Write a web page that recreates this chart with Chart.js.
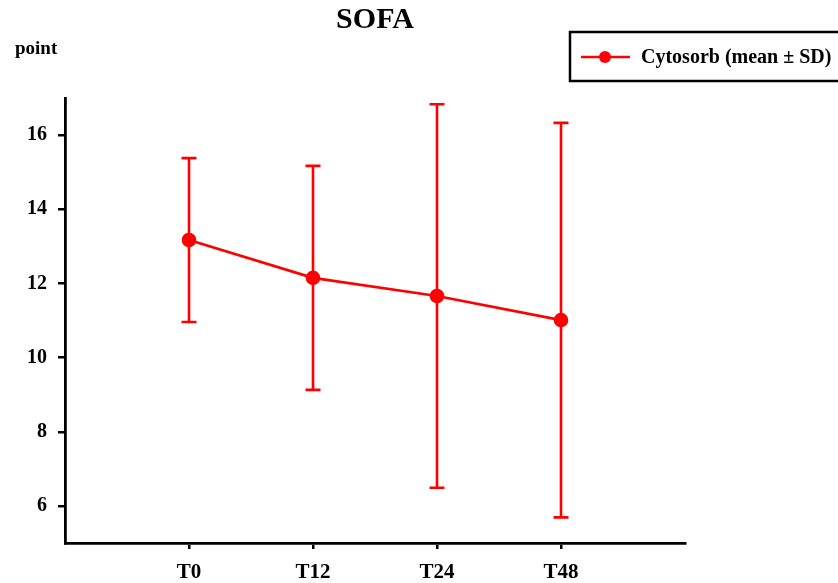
<!DOCTYPE html>
<html>
<head>
<meta charset="utf-8">
<script src="https://cdn.jsdelivr.net/npm/chart.js@4/dist/chart.umd.min.js"></script>
<style>
  html, body { margin: 0; padding: 0; background: #fff; }
  #wrap { width: 838px; height: 583px; position: relative; }
</style>
</head>
<body>
<div id="wrap"><canvas id="sofaChart"></canvas></div>
<script>
// Data
const timeLabels = ['T0', 'T12', 'T24', 'T48'];
const sofaMean = [13.17, 12.15, 11.66, 11.01];
const sofaSD = [2.21, 3.02, 5.17, 5.32];
const yTicks = [6, 8, 10, 12, 14, 16];

const RED = '#ff0000';
const FONT = '"Liberation Serif", "Times New Roman", serif';

// Draws vertical error bars (mean ± SD) with caps
const errorBars = {
    id: 'errorBars',
    beforeDatasetsDraw(chart) {
        const ctx = chart.ctx;
        const xs = chart.scales.x, ys = chart.scales.y;
        ctx.save();
        ctx.strokeStyle = RED;
        ctx.lineWidth = 2.6;
        sofaMean.forEach((m, i) => {
            const x = xs.getPixelForValue(i);
            const top = ys.getPixelForValue(m + sofaSD[i]);
            const bot = ys.getPixelForValue(m - sofaSD[i]);
            ctx.beginPath();
            ctx.moveTo(x, top); ctx.lineTo(x, bot);
            ctx.moveTo(x - 7.5, top); ctx.lineTo(x + 7.5, top);
            ctx.moveTo(x - 7.5, bot); ctx.lineTo(x + 7.5, bot);
            ctx.stroke();
        });
        ctx.restore();
    }
};

// Title, unit label and boxed legend
const decorations = {
    id: 'decorations',
    afterDraw(chart) {
        const ctx = chart.ctx;
        const area = chart.chartArea;
        ctx.save();
        ctx.fillStyle = '#000';
        ctx.textBaseline = 'alphabetic';

        ctx.font = 'bold 30px ' + FONT;
        ctx.textAlign = 'center';
        ctx.fillText('SOFA', (area.left + area.right) / 2, 28);

        ctx.font = 'bold 19px ' + FONT;
        ctx.textAlign = 'left';
        ctx.fillText('point', 15, 54);

        // legend box
        ctx.strokeStyle = '#000';
        ctx.lineWidth = 2.5;
        ctx.strokeRect(570, 32, 280, 49);
        ctx.strokeStyle = RED;
        ctx.beginPath();
        ctx.moveTo(581, 57); ctx.lineTo(630, 57);
        ctx.stroke();
        ctx.fillStyle = RED;
        ctx.beginPath();
        ctx.arc(605, 57, 6, 0, Math.PI * 2);
        ctx.fill();
        ctx.fillStyle = '#000';
        ctx.font = 'bold 20px ' + FONT;
        ctx.fillText(chart.data.datasets[0].label, 641, 63);
        ctx.restore();
    }
};

new Chart(document.getElementById('sofaChart'), {
    type: 'line',
    data: {
        datasets: [{
            label: 'Cytosorb (mean ± SD)',
            data: sofaMean.map((v, i) => ({ x: i, y: v })),
            borderColor: RED,
            backgroundColor: RED,
            borderWidth: 2.6,
            pointRadius: 6,
            pointHoverRadius: 6,
            tension: 0
        }]
    },
    options: {
        responsive: true,
        maintainAspectRatio: false,
        animation: false,
        layout: { padding: { top: 98, right: 153, left: 0, bottom: 0 } },
        plugins: { legend: { display: false }, title: { display: false }, tooltip: { enabled: false } },
        scales: {
            x: {
                type: 'linear',
                min: -1,
                max: 4,
                afterBuildTicks: axis => { axis.ticks = timeLabels.map((l, i) => ({ value: i })); },
                afterFit: axis => { axis.height = 40; },
                ticks: {
                    callback: v => timeLabels[v],
                    color: '#000',
                    font: { family: FONT, size: 21, weight: 'bold' },
                    padding: 11,
                    maxRotation: 0
                },
                grid: { drawOnChartArea: false, color: '#000', lineWidth: 2.5, tickLength: 6 },
                border: { color: '#000', width: 2.8 }
            },
            y: {
                min: 5,
                max: 17,
                afterBuildTicks: axis => { axis.ticks = yTicks.map(v => ({ value: v })); },
                afterFit: axis => { axis.width = 65; },
                ticks: {
                    color: '#000',
                    font: { family: FONT, size: 20, weight: 'bold' },
                    padding: 11
                },
                grid: { drawOnChartArea: false, color: '#000', lineWidth: 2.5, tickLength: 7 },
                border: { color: '#000', width: 2.8 }
            }
        }
    },
    plugins: [errorBars, decorations]
});
</script>
</body>
</html>
